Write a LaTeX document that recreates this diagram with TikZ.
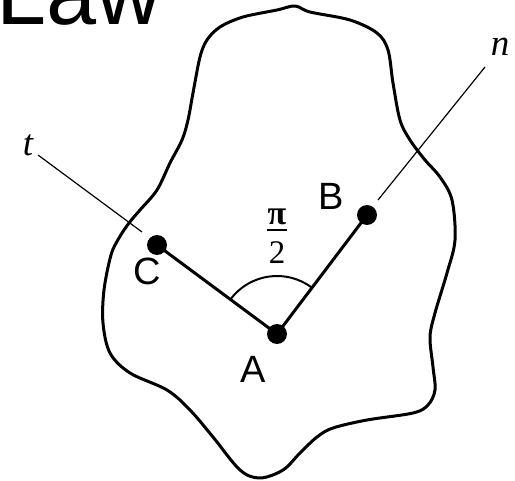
\documentclass[tikz,border=0pt]{standalone}
\usepackage{fontspec}
\setmainfont{Liberation Sans}
\newfontfamily\seriffont{Liberation Serif}
\begin{document}
\begin{tikzpicture}[x=1pt,y=-1pt,
  outline/.style={line width=3pt, line join=round},
  seg/.style={line width=3pt},
  thinline/.style={line width=1.2pt},
  anglearc/.style={line width=2pt},
  dot/.style={circle, fill=black, inner sep=0pt, minimum size=20pt},
  sanslab/.style={inner sep=0pt, font=\fontsize{38}{38}\selectfont},
  itlab/.style={inner sep=0pt, font=\seriffont\itshape\fontsize{37}{37}\selectfont},
  uplab/.style={inner sep=0pt, font=\seriffont\fontsize{33}{33}\selectfont}]
\useasboundingbox (0,0) rectangle (515,481);
% title
\node[inner sep=0pt, anchor=base west, font=\fontsize{90}{90}\selectfont] (law) at (-3.6,25) {Law};
% region outline
\draw[outline] plot[smooth cycle, tension=0.55] coordinates {
 (295,6) (310,12) (350,20) (377,33) (388,50) (393,83) (400,120) (410,140)
 (425,160) (440,177) (452,200) (455,240) (447,273) (435,313) (430,337)
 (433,367) (435,390) (428,405) (413,413) (367,420) (333,428) (317,437)
 (300,453) (283,470) (260,478) (240,470) (213,437) (190,410) (167,390)
 (130,373) (110,353) (103,323) (104,290) (111,255) (119,238) (129,223)
 (140,210) (157,190) (170,163) (182,140) (188,120) (193,93) (200,57)
 (207,40) (220,27) (243,17) (277,10)};
% points
\node[dot] (A) at (277,334) {};
\node[dot] (B) at (367,215) {};
\node[dot] (C) at (157,245) {};
\draw[seg] (C.center) -- (A.center) -- (B.center);
% tangent and normal
\coordinate (tS) at (142,232);
\coordinate (tE) at (38,155);
\coordinate (nS) at (378,200);
\coordinate (nE) at (485,67);
\draw[thinline] (tS) -- (tE);
\draw[thinline] (nS) -- (nE);
% right angle arc
\draw[anglearc] (A.center) ++(53:58pt) arc[start angle=53, end angle=143, radius=58pt];
% labels
\node[sanslab] (la) at (253,369) {A};
\node[sanslab] (lb) at (331,196) {B};
\node[sanslab] (lc) at (147,271) {C};
\node[itlab] (lt) at (28,145) {t};
\node[itlab] (ln) at (500,47) {n};
\node[uplab, font=\seriffont\bfseries\fontsize{34}{34}\selectfont] (pi) at (277,217) {π};
\draw[line width=2.3pt] (267,230) -- (287,230);
\node[uplab] (two) at (277,253) {2};
\end{tikzpicture}
\end{document}
